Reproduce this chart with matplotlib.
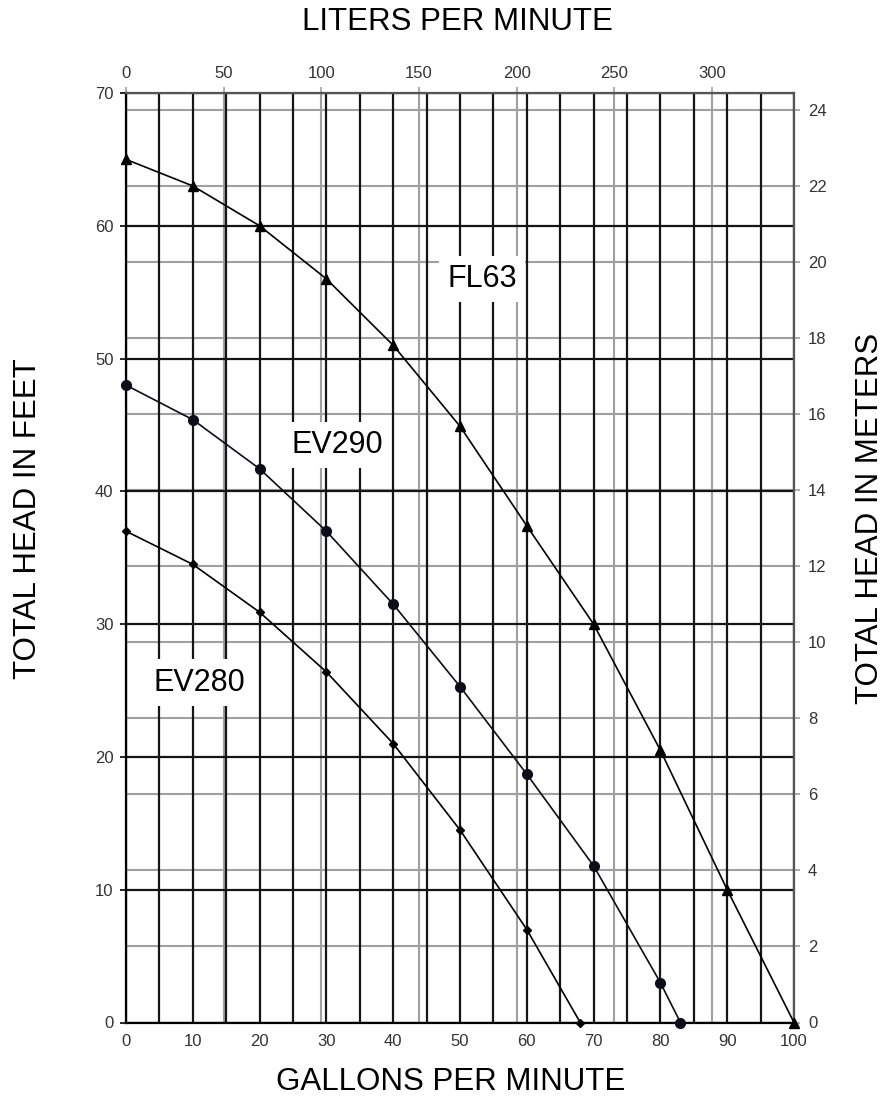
import matplotlib
matplotlib.use("Agg")
import matplotlib.pyplot as plt
from matplotlib.ticker import MultipleLocator

plt.rcParams['font.family'] = ['Liberation Sans', 'DejaVu Sans']

# pump curves, flow in gpm and head in feet
fl63_gpm = [0, 10, 20, 30, 40, 50, 60, 70, 80, 90, 100]
fl63_head = [65, 63, 60, 56, 51, 44.9, 37.4, 30, 20.5, 10, 0]

ev290_gpm = [0, 10, 20, 30, 40, 50, 60, 70, 80, 83]
ev290_head = [48, 45.4, 41.7, 37.0, 31.5, 25.3, 18.7, 11.8, 3.0, 0]

ev280_gpm = [0, 10, 20, 30, 40, 50, 60, 68]
ev280_head = [37, 34.5, 30.9, 26.4, 21, 14.5, 7.0, 0]

lpm_ticks = [0, 50, 100, 150, 200, 250, 300]
meter_ticks = [0, 2, 4, 6, 8, 10, 12, 14, 16, 18, 20, 22, 24]

fig = plt.figure(figsize=(8.96, 11.12), dpi=100)
pos = [126 / 896, 1 - 1022.5 / 1112, (794 - 126) / 896, (1022.5 - 93) / 1112]

grey = '#a0a0a0'
dark = '#151515'

# secondary scales go underneath so the black grid sits on top
ax_m = fig.add_axes(pos)
ax_m.set_ylim(0, 24.46)
ax_m.set_xlim(0, 1)
ax_m.yaxis.tick_right()
ax_m.set_yticks(meter_ticks)
ax_m.set_xticks([])
ax_m.grid(axis='y', color=grey, linewidth=1.5)
ax_m.tick_params(axis='y', length=4, width=1.2, color=grey, pad=6,
                 labelsize=12, labelcolor='#333333')
for s in ax_m.spines.values():
    s.set_visible(False)

ax_l = fig.add_axes(pos)
ax_l.patch.set_visible(False)
ax_l.set_xlim(0, 341.9)
ax_l.xaxis.tick_top()
ax_l.set_xticks(lpm_ticks)
ax_l.set_yticks([])
ax_l.grid(axis='x', color=grey, linewidth=1.5)
ax_l.tick_params(axis='x', length=4, width=1.2, color=grey, pad=5,
                 labelsize=12, labelcolor='#333333')
for s in ax_l.spines.values():
    s.set_visible(False)

ax = fig.add_axes(pos)
ax.patch.set_visible(False)
ax.set_xlim(0, 100)
ax.set_ylim(0, 70)
ax.xaxis.set_major_locator(MultipleLocator(10))
ax.xaxis.set_minor_locator(MultipleLocator(5))
ax.yaxis.set_major_locator(MultipleLocator(10))
ax.grid(axis='x', which='both', color=dark, linewidth=1.6)
ax.grid(axis='y', which='major', color=dark, linewidth=1.6)
ax.tick_params(axis='x', which='both', length=0, pad=8, labelsize=12, labelcolor='#333333')
ax.tick_params(axis='y', length=4, width=1.2, pad=5, labelsize=12, labelcolor='#333333')
ax.spines['left'].set_color('black')
ax.spines['bottom'].set_color('black')
ax.spines['left'].set_linewidth(1.6)
ax.spines['bottom'].set_linewidth(1.6)
ax.spines['top'].set_color('#555555')
ax.spines['right'].set_color('#555555')
ax.spines['top'].set_linewidth(1.6)
ax.spines['right'].set_linewidth(1.6)

ax.plot(fl63_gpm, fl63_head, color='black', linewidth=1.2, marker='^', markersize=7,
        clip_on=False, zorder=5)
ax.plot(ev290_gpm, ev290_head, color='#0d0d1a', linewidth=1.2, marker='o', markersize=7,
        clip_on=False, zorder=5)
ax.plot(ev280_gpm, ev280_head, color='black', linewidth=1.2, marker='D', markersize=4.5,
        clip_on=False, zorder=5)

box = dict(facecolor='white', edgecolor='none', pad=6)
ax.text(53.3, 56.0, 'FL63', fontsize=22, ha='center', va='center', bbox=box, zorder=6)
ax.text(31.6, 43.5, 'EV290', fontsize=22, ha='center', va='center', bbox=box, zorder=6)
ax.text(11.0, 25.6, 'EV280', fontsize=22, ha='center', va='center', bbox=box, zorder=6)

fig.text(0.511, 0.980, 'LITERS PER MINUTE', fontsize=22.5, ha='center', va='center')
fig.text(0.503, 0.027, 'GALLONS PER MINUTE', fontsize=22.5, ha='center', va='center')
fig.text(0.031, 0.534, 'TOTAL HEAD IN FEET', fontsize=22.5, ha='center', va='center', rotation=90)
fig.text(0.971, 0.534, 'TOTAL HEAD IN METERS', fontsize=22.5, ha='center', va='center', rotation=90)

fig.savefig('out.png', dpi=100)
